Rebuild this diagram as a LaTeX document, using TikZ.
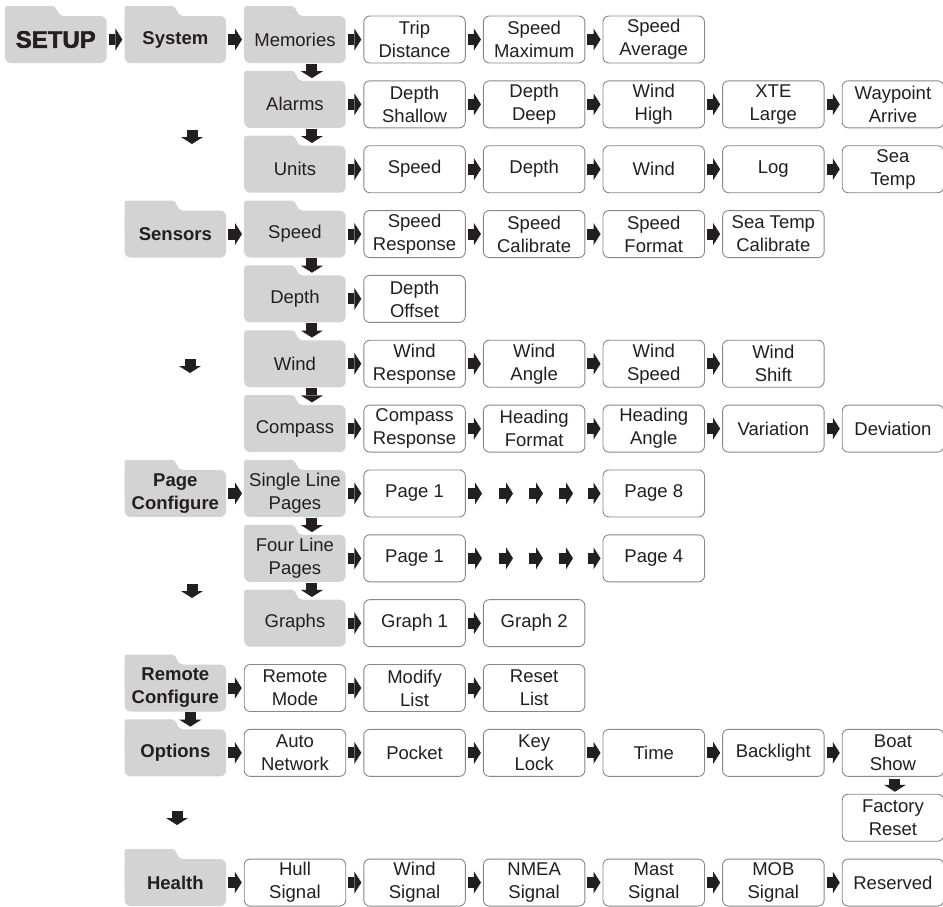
\documentclass[tikz,border=0pt]{standalone}
\usepackage{fontspec}
\setmainfont{Liberation Sans}
\newfontfamily\heavyfont{Liberation Sans}[BoldFeatures={FakeBold=2}]
\usetikzlibrary{arrows.meta}
\definecolor{fold}{RGB}{211,211,212}
\definecolor{ink}{RGB}{35,31,32}
\definecolor{edge}{RGB}{135,135,135}
\newcommand{\mkfolder}[5][]{%
  \fill[fold] ({#3-50.75},{#4}) -- ({#3-50.75},{#4-28.5})
     .. controls ({#3-50.75},{#4-33.5}) .. ({#3-45.75},{#4-33.5})
     -- ({#3-3},{#4-33.5})
     .. controls ({#3+2},{#4-33.5}) and ({#3+1},{#4-23.5}) .. ({#3+7.25},{#4-23.5})
     -- ({#3+7.25},{#4}) -- cycle;
  \node[foldbox,#1] (#2) at (#3,#4) {#5};
}
\begin{document}
\begin{tikzpicture}[x=1pt,y=-1pt,
  txt/.style={font=\fontsize{18.5}{23}\selectfont},
  boldtxt/.style={font=\bfseries\fontsize{18.5}{23}\selectfont},
  foldbox/.style={rectangle, fill=fold, rounded corners=6pt, minimum width=101.5pt,
    minimum height=47pt, inner sep=0pt, align=center, text=ink, txt},
  wbox/.style={rectangle, draw=edge, line width=0.9pt, fill=white, rounded corners=6pt,
    minimum width=101.5pt, minimum height=47pt, inner sep=0pt, align=center, text=ink, txt},
  harr0/.style={draw=ink, line width=11pt, -{Triangle[length=7pt,width=22pt,line width=0pt]}},
  harr/.style={harr0, shorten <=2pt, shorten >=2pt},
  varr/.style={harr0, shorten <=0.5pt, shorten >=2.5pt}]
\useasboundingbox (0,0) rectangle (943,906);

% Row 0
\mkfolder[font={\heavyfont\bfseries\fontsize{24}{24}\selectfont}]{setup}{55.75}{39.5}{SETUP}
\mkfolder[boldtxt]{system}{175.35}{39.5}{System}
\mkfolder{memories}{294.95}{39.5}{Memories}
\node[wbox] (trip) at (414.55,39.5) {Trip\\Distance};
\node[wbox] (smax) at (534.15,39.5) {Speed\\Maximum};
\node[wbox] (savg) at (653.75,39.5) {Speed\\Average};
% Row 1
\mkfolder{alarms}{294.95}{104.35}{Alarms}
\node[wbox] (dsh) at (414.55,104.35) {Depth\\Shallow};
\node[wbox] (ddp) at (534.15,104.35) {Depth\\Deep};
\node[wbox] (whi) at (653.75,104.35) {Wind\\High};
\node[wbox] (xte) at (773.35,104.35) {XTE\\Large};
\node[wbox] (wpa) at (892.95,104.35) {Waypoint\\Arrive};
% Row 2
\mkfolder{units}{294.95}{169.2}{Units}
\node[wbox] (uspd) at (414.55,169.2) {Speed};
\node[wbox] (udep) at (534.15,169.2) {Depth};
\node[wbox] (uwnd) at (653.75,169.2) {Wind};
\node[wbox] (ulog) at (773.35,169.2) {Log};
\node[wbox] (utmp) at (892.95,169.2) {Sea\\Temp};
% Row 3
\mkfolder[boldtxt]{sensors}{175.35}{234.05}{Sensors}
\mkfolder{sspeed}{294.95}{234.05}{Speed}
\node[wbox] (srsp) at (414.55,234.05) {Speed\\Response};
\node[wbox] (scal) at (534.15,234.05) {Speed\\Calibrate};
\node[wbox] (sfmt) at (653.75,234.05) {Speed\\Format};
\node[wbox] (stc) at (773.35,234.05) {Sea Temp\\Calibrate};
% Row 4
\mkfolder{sdepth}{294.95}{298.9}{Depth}
\node[wbox] (doff) at (414.55,298.9) {Depth\\Offset};
% Row 5
\mkfolder{swind}{294.95}{363.75}{Wind}
\node[wbox] (wrsp) at (414.55,363.75) {Wind\\Response};
\node[wbox] (wang) at (534.15,363.75) {Wind\\Angle};
\node[wbox] (wspd) at (653.75,363.75) {Wind\\Speed};
\node[wbox] (wsh) at (773.35,363.75) {Wind\\Shift};
% Row 6
\mkfolder{scomp}{294.95}{428.6}{Compass}
\node[wbox] (crsp) at (414.55,428.6) {Compass\\Response};
\node[wbox] (hfmt) at (534.15,428.6) {Heading\\Format};
\node[wbox] (hang) at (653.75,428.6) {Heading\\Angle};
\node[wbox] (var) at (773.35,428.6) {Variation};
\node[wbox] (dev) at (892.95,428.6) {Deviation};
% Row 7
\mkfolder[boldtxt]{pagecfg}{175.35}{493.45}{Page\\Configure}
\mkfolder{single}{294.95}{493.45}{Single Line\\Pages}
\node[wbox] (sp1) at (414.55,493.45) {Page 1};
\node[wbox] (sp8) at (653.75,493.45) {Page 8};
% Row 8
\mkfolder{four}{294.95}{558.3}{Four Line\\Pages}
\node[wbox] (fp1) at (414.55,558.3) {Page 1};
\node[wbox] (fp4) at (653.75,558.3) {Page 4};
% Row 9
\mkfolder{graphs}{294.95}{623.15}{Graphs}
\node[wbox] (g1) at (414.55,623.15) {Graph 1};
\node[wbox] (g2) at (534.15,623.15) {Graph 2};
% Row 10
\mkfolder[boldtxt]{remote}{175.35}{688}{Remote\\Configure}
\node[wbox] (rmode) at (294.95,688) {Remote\\Mode};
\node[wbox] (mlist) at (414.55,688) {Modify\\List};
\node[wbox] (rlist) at (534.15,688) {Reset\\List};
% Row 11
\mkfolder[boldtxt]{options}{175.35}{752.85}{Options}
\node[wbox] (anet) at (294.95,752.85) {Auto\\Network};
\node[wbox] (pocket) at (414.55,752.85) {Pocket};
\node[wbox] (klock) at (534.15,752.85) {Key\\Lock};
\node[wbox] (time) at (653.75,752.85) {Time};
\node[wbox] (back) at (773.35,752.85) {Backlight};
\node[wbox] (boat) at (892.95,752.85) {Boat\\Show};
% Row 12
\node[wbox] (fact) at (892.95,817.7) {Factory\\Reset};
% Row 13
\mkfolder[boldtxt]{health}{175.35}{882.55}{Health}
\node[wbox] (hull) at (294.95,882.55) {Hull\\Signal};
\node[wbox] (wsig) at (414.55,882.55) {Wind\\Signal};
\node[wbox] (nmea) at (534.15,882.55) {NMEA\\Signal};
\node[wbox] (mast) at (653.75,882.55) {Mast\\Signal};
\node[wbox] (mob) at (773.35,882.55) {MOB\\Signal};
\node[wbox] (resv) at (892.95,882.55) {Reserved};

% horizontal connectors
\foreach \a/\b in {setup/system, system/memories, memories/trip, trip/smax, smax/savg,
  alarms/dsh, dsh/ddp, ddp/whi, whi/xte, xte/wpa,
  units/uspd, uspd/udep, udep/uwnd, uwnd/ulog, ulog/utmp,
  sensors/sspeed, sspeed/srsp, srsp/scal, scal/sfmt, sfmt/stc,
  sdepth/doff,
  swind/wrsp, wrsp/wang, wang/wspd, wspd/wsh,
  scomp/crsp, crsp/hfmt, hfmt/hang, hang/var, var/dev,
  pagecfg/single, single/sp1, four/fp1, graphs/g1, g1/g2,
  remote/rmode, rmode/mlist, mlist/rlist,
  options/anet, anet/pocket, pocket/klock, klock/time, time/back, back/boat,
  health/hull, hull/wsig, wsig/nmea, nmea/mast, mast/mob, mob/resv}
  \draw[harr] (\a.east) -- (\b.west);

% page sequences
\foreach \r/\p/\q/\y in {s/sp1/sp8/493.45, f/fp1/fp4/558.3} {
  \coordinate (\r a) at (482,\y);
  \coordinate (\r b1) at (499,\y); \coordinate (\r b2) at (513,\y);
  \coordinate (\r c1) at (529,\y); \coordinate (\r c2) at (543,\y);
  \coordinate (\r d1) at (559,\y); \coordinate (\r d2) at (573,\y);
  \coordinate (\r e) at (588,\y);
  \draw[harr0, shorten <=2.5pt] (\p.east) -- (\r a);
  \draw[harr0] (\r b1) -- (\r b2);
  \draw[harr0] (\r c1) -- (\r c2);
  \draw[harr0] (\r d1) -- (\r d2);
  \draw[harr0, shorten >=2pt] (\r e) -- (\q.west);
}

% vertical connectors in second column
\foreach \a/\b in {memories/alarms, alarms/units, sspeed/sdepth, sdepth/swind,
  swind/scomp, single/four, four/graphs}
  \draw[varr] ([xshift=17pt]\a.south) -- ([xshift=17pt]\b.north);
\draw[varr] ([xshift=15pt]remote.south) -- ([xshift=15pt]options.north);
\draw[harr] ([xshift=2pt]boat.south) -- ([xshift=2pt]fact.north);

% lone down arrows in first column
\coordinate (l1a) at (192,130); \coordinate (l1b) at (192,144);
\coordinate (l2a) at (190,359); \coordinate (l2b) at (190,373);
\coordinate (l3a) at (192,584); \coordinate (l3b) at (192,598);
\coordinate (l4a) at (177,811); \coordinate (l4b) at (177,825);
\draw[harr0] (l1a) -- (l1b);
\draw[harr0] (l2a) -- (l2b);
\draw[harr0] (l3a) -- (l3b);
\draw[harr0] (l4a) -- (l4b);
\end{tikzpicture}
\end{document}
